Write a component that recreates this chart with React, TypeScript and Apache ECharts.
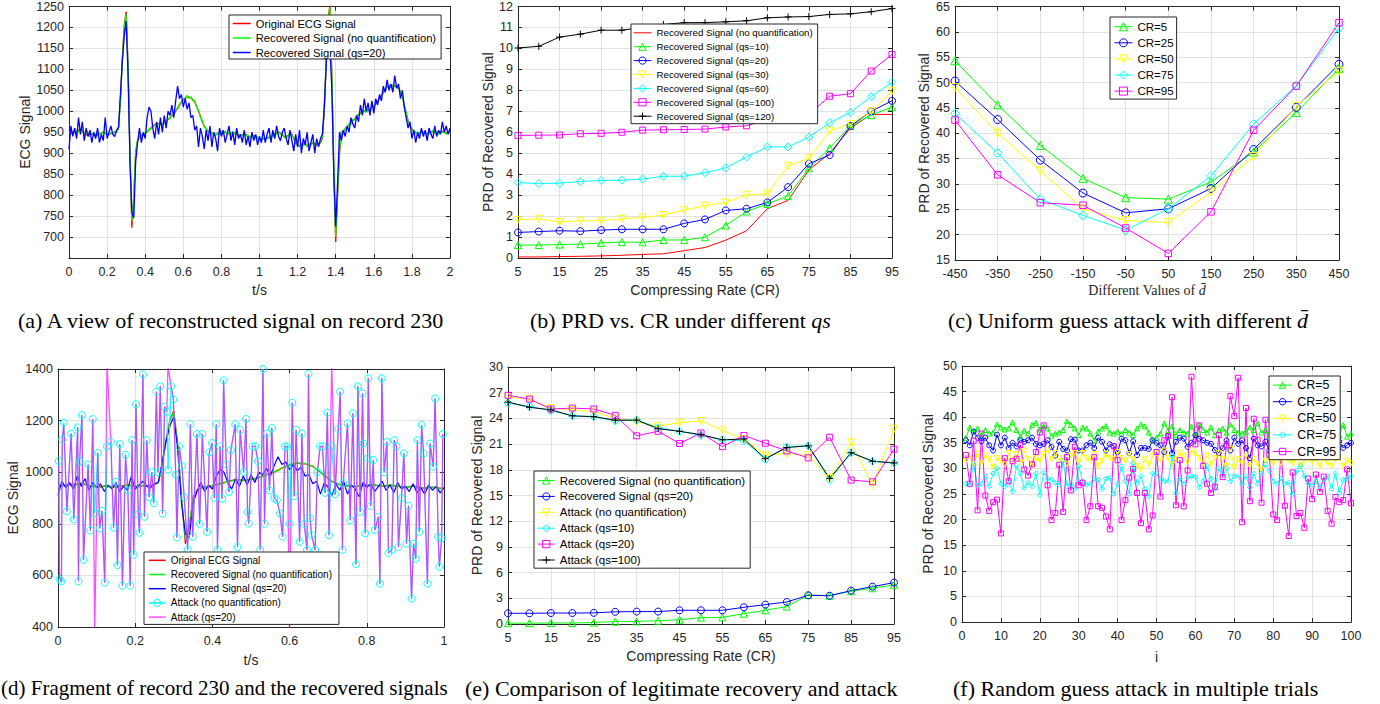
import React, { useEffect, useRef } from 'react';
import * as echarts from 'echarts';

// ---------- (a)/(d) ECG record 230, sampled every 0.01 s ----------
const ECG_STEP = 0.01;
const ecgOriginal = [
  945, 947, 950, 952, 950, 955, 957, 952, 948, 945,
  942, 944, 946, 945, 943, 944, 946, 948, 950, 948,
  946, 945, 947, 948, 950, 952, 958, 1030, 1125, 1205,
  1238, 1110, 900, 722, 790, 905, 930, 938, 942, 945,
  948, 952, 955, 960, 965, 968, 970, 970, 968, 970,
  972, 975, 980, 985, 990, 995, 1000, 1008, 1015, 1022,
  1028, 1032, 1035, 1034, 1032, 1028, 1022, 1012, 1000, 988,
  975, 965, 958, 952, 950, 948, 946, 945, 946, 948,
  950, 952, 950, 948, 946, 948, 950, 948, 945, 943,
  942, 944, 946, 944, 940, 938, 940, 942, 940, 938,
  936, 935, 934, 935, 936, 938, 940, 942, 945, 948,
  950, 948, 944, 940, 938, 942, 948, 945, 935, 925,
  920, 918, 920, 922, 920, 918, 920, 922, 925, 922,
  920, 922, 925, 935, 1000, 1120, 1220, 1255, 1080, 860,
  688, 800, 900, 945, 952, 958, 962, 968, 972, 978,
  982, 988, 992, 995, 998, 1000, 1000, 1002, 1005, 1008,
  1012, 1018, 1024, 1030, 1038, 1045, 1052, 1058, 1060, 1062,
  1062, 1060, 1058, 1055, 1048, 1035, 1015, 995, 978, 965,
  958, 952, 950, 948, 948, 950, 950, 948, 946, 948,
  950, 952, 950, 948, 948, 950, 952, 950, 948, 950, 952,
];
const ecgRecNoQ = [
  948, 950, 946, 955, 952, 950, 958, 955, 946, 948,
  945, 940, 948, 943, 946, 941, 948, 945, 952, 946,
  948, 943, 950, 946, 952, 950, 960, 1025, 1120, 1198,
  1232, 1105, 905, 738, 798, 900, 932, 936, 945, 942,
  950, 949, 958, 957, 968, 965, 973, 968, 971, 967,
  975, 972, 983, 982, 993, 992, 1003, 1005, 1018, 1020,
  1030, 1029, 1038, 1031, 1035, 1025, 1025, 1010, 1003, 985,
  978, 962, 960, 950, 953, 945, 949, 942, 949, 945,
  953, 949, 953, 945, 949, 945, 953, 945, 948, 940,
  945, 941, 949, 941, 943, 935, 943, 939, 943, 935,
  939, 932, 937, 932, 939, 935, 943, 939, 948, 945,
  953, 945, 947, 937, 941, 939, 951, 942, 938, 922,
  923, 915, 923, 919, 923, 915, 923, 919, 928, 919,
  923, 919, 928, 938, 1005, 1115, 1215, 1248, 1075, 865,
  700, 805, 905, 953, 949, 961, 959, 971, 969, 981,
  979, 991, 989, 998, 995, 1003, 997, 1005, 1002, 1011,
  1009, 1021, 1021, 1033, 1035, 1048, 1049, 1061, 1057, 1065,
  1059, 1063, 1055, 1058, 1045, 1038, 1012, 998, 975, 968,
  955, 955, 947, 951, 945, 953, 947, 951, 943, 951,
  947, 955, 947, 951, 945, 953, 949, 953, 945, 953, 949,
];
const ecgRecQs20 = [
  910, 965, 940, 960, 935, 985, 945, 975, 930, 960,
  940, 955, 925, 950, 935, 960, 925, 945, 930, 985,
  935, 950, 965, 945, 940, 955, 962, 1040, 1120, 1180,
  1215, 1090, 880, 760, 745, 880, 925, 960, 925, 950,
  935, 985, 1010, 1000, 960, 935, 975, 945, 985, 950,
  990, 960, 1000, 990, 1015, 985, 1025, 1060, 1030, 1040,
  1010, 1030, 1005, 1020, 985, 990, 955, 965, 915, 960,
  940, 910, 955, 930, 965, 915, 950, 935, 905, 960,
  940, 955, 925, 945, 965, 930, 950, 920, 960, 935,
  945, 925, 955, 920, 940, 915, 950, 930, 945, 920,
  940, 925, 955, 925, 945, 960, 925, 955, 935, 965,
  940, 930, 950, 960, 935, 920, 955, 930, 905, 945,
  915, 955, 900, 935, 920, 950, 905, 925, 945, 900,
  935, 915, 935, 945, 1010, 1110, 1200, 1150, 1050, 850,
  725, 830, 950, 930, 955, 940, 965, 950, 985, 970,
  960, 990, 975, 1015, 990, 1030, 1000, 1020, 990, 1025,
  995, 1030, 1015, 1040, 1025, 1060, 1045, 1075, 1050, 1065,
  1045, 1085, 1055, 1065, 1030, 1050, 1010, 985, 960, 975,
  935, 955, 925, 950, 935, 960, 940, 955, 930, 960,
  945, 935, 965, 940, 955, 945, 975, 950, 965, 945, 960,
];

// ---------- (d) attack samples ----------
const attackT = [
  0.002, 0.004, 0.009, 0.011, 0.015, 0.023, 0.034, 0.041, 0.051, 0.053,
  0.056, 0.062, 0.066, 0.078, 0.084, 0.090, 0.095, 0.103, 0.108, 0.114,
  0.121, 0.127, 0.137, 0.144, 0.150, 0.154, 0.160, 0.167, 0.175, 0.181,
  0.187, 0.192, 0.196, 0.202, 0.208, 0.211, 0.220, 0.224, 0.230, 0.236,
  0.243, 0.248, 0.255, 0.259, 0.265, 0.271, 0.276, 0.282, 0.285, 0.293,
  0.299, 0.305, 0.308, 0.314, 0.321, 0.327, 0.336, 0.343, 0.349, 0.360,
  0.367, 0.374, 0.386, 0.392, 0.399, 0.405, 0.410, 0.413, 0.420, 0.425,
  0.429, 0.436, 0.443, 0.448, 0.459, 0.465, 0.472, 0.481, 0.487, 0.491,
  0.494, 0.504, 0.511, 0.518, 0.524, 0.531, 0.535, 0.541, 0.548, 0.554,
  0.560, 0.567, 0.575, 0.582, 0.588, 0.594, 0.600, 0.607, 0.612, 0.617,
  0.626, 0.632, 0.638, 0.645, 0.649, 0.653, 0.657, 0.666, 0.672, 0.679,
  0.685, 0.692, 0.698, 0.702, 0.709, 0.718, 0.726, 0.731, 0.737, 0.739,
  0.750, 0.757, 0.764, 0.772, 0.777, 0.783, 0.789, 0.791, 0.796, 0.802,
  0.804, 0.810, 0.817, 0.821, 0.830, 0.834, 0.839, 0.845, 0.852, 0.856,
  0.865, 0.871, 0.877, 0.882, 0.890, 0.896, 0.903, 0.908, 0.916, 0.921,
  0.927, 0.931, 0.936, 0.942, 0.947, 0.957, 0.964, 0.972, 0.977, 0.985,
  0.988, 0.994, 0.997,
];
const attackNoQ = [
  1043, 585, 577, 1127, 1192, 848, 1150, 817, 1174, 577,
  1043, 1221, 660, 1030, 774, 1206, 840, 1075, 782, 850,
  572, 1100, 1118, 785, 963, 640, 1109, 560, 1067, 929,
  560, 1124, 680, 1263, 836, 765, 1379, 827, 1124, 903,
  1000, 880, 1312, 1000, 1333, 840, 1254, 1235, 1010, 1333,
  1282, 990, 747, 1100, 1024, 903, 700, 1186, 750, 1148,
  800, 1148, 769, 1077, 1113, 900, 1186, 700, 1100, 897,
  1356, 1030, 923, 1086, 1186, 710, 1164, 1000, 1206, 846,
  801, 1100, 1100, 1043, 700, 1400, 800, 1150, 929, 1171,
  900, 891, 840, 750, 1100, 1100, 800, 1269, 907, 1164,
  730, 1150, 800, 699, 1381, 821, 756, 699, 1000, 1100,
  1100, 920, 1231, 756, 1100, 914, 1167, 1312, 699, 958,
  1189, 814, 1228, 643, 1333, 846, 1306, 1111, 763, 1054,
  1364, 869, 1047, 776, 827, 568, 1364, 1000, 1118, 687,
  699, 1124, 1100, 710, 900, 1073, 723, 870, 510, 723,
  665, 1124, 769, 1183, 1073, 568, 1111, 1021, 1286, 750,
  634, 744, 1148,
];
const attackQs20 = [
  1040, 590, 577, 1127, 1185, 848, 1150, 820, 1174, 577,
  1043, 1221, 660, 1030, 774, 1206, 380, 1075, 782, 850,
  572, 1420, 1118, 785, 963, 640, 1109, 560, 1067, 929,
  560, 1124, 680, 1263, 836, 765, 1379, 827, 1124, 903,
  1000, 880, 1312, 1000, 1333, 840, 1254, 1235, 1410, 1333,
  1282, 990, 747, 1100, 1024, 903, 700, 1186, 750, 1148,
  800, 1148, 769, 1077, 1113, 900, 1186, 700, 1100, 897,
  1356, 1030, 923, 1086, 1186, 710, 1164, 1000, 1206, 846,
  801, 1100, 1100, 1043, 700, 1400, 800, 1150, 929, 1171,
  900, 891, 840, 750, 1100, 1100, 380, 1269, 907, 1164,
  730, 1150, 800, 699, 1381, 821, 756, 699, 1000, 1100,
  1100, 920, 1231, 756, 1420, 914, 1167, 1312, 699, 958,
  1189, 814, 1228, 643, 1333, 846, 1306, 1111, 763, 1054,
  1364, 869, 1047, 776, 827, 568, 1364, 1000, 1118, 687,
  699, 1124, 1100, 710, 900, 1073, 723, 870, 510, 723,
  665, 1124, 769, 1183, 1073, 568, 1111, 1021, 1286, 750,
  634, 744, 1148,
];

// ---------- (b) PRD vs CR ----------
const crValues = [5, 10, 15, 20, 25, 30, 35, 40, 45, 50, 55, 60, 65, 70, 75, 80, 85, 90, 95];
const prdNoQ = [0.05, 0.05, 0.07, 0.08, 0.1, 0.13, 0.17, 0.2, 0.35, 0.5, 0.85, 1.3, 2.35, 2.75, 4.2, 5.0, 6.2, 6.85, 6.85];
const prdQs10 = [0.62, 0.62, 0.64, 0.66, 0.72, 0.76, 0.75, 0.86, 0.86, 0.99, 1.55, 2.22, 2.58, 2.96, 4.28, 5.25, 6.3, 6.82, 7.2];
const prdQs20 = [1.22, 1.26, 1.3, 1.28, 1.33, 1.37, 1.37, 1.37, 1.65, 1.84, 2.27, 2.35, 2.65, 3.38, 4.5, 4.91, 6.3, 7.0, 7.5];
const prdQs30 = [1.82, 1.87, 1.72, 1.78, 1.78, 1.87, 1.93, 2.05, 2.28, 2.5, 2.65, 3.0, 3.07, 4.4, 4.75, 6.05, 6.4, 7.0, 7.96];
const prdQs60 = [3.6, 3.55, 3.57, 3.65, 3.7, 3.71, 3.77, 3.9, 3.9, 4.07, 4.3, 4.82, 5.3, 5.3, 5.77, 6.45, 6.95, 7.7, 8.38];
const prdQs100 = [5.85, 5.86, 5.87, 5.93, 5.95, 6.0, 6.1, 6.12, 6.13, 6.15, 6.25, 6.31, 6.6, 6.7, 6.85, 7.72, 7.84, 8.92, 9.71];
const prdQs120 = [10.02, 10.1, 10.54, 10.68, 10.87, 10.87, 11.0, 11.14, 11.23, 11.23, 11.27, 11.32, 11.46, 11.5, 11.52, 11.62, 11.65, 11.75, 11.9];

// ---------- (c) uniform guess attack ----------
const dBarValues = [-450, -350, -250, -150, -50, 50, 150, 250, 350, 450];
const uniCR5 = [54.3, 45.6, 37.6, 31.1, 27.3, 27.0, 30.4, 36.3, 44.1, 52.8];
const uniCR25 = [50.3, 42.7, 34.7, 28.2, 24.3, 25.1, 29.1, 36.8, 45.1, 53.6];
const uniCR50 = [49.0, 40.0, 32.6, 25.1, 22.8, 22.4, 28.4, 35.4, 45.3, 52.2];
const uniCR75 = [43.9, 36.1, 27.0, 23.8, 20.9, 25.1, 31.6, 41.8, 49.4, 60.7];
const uniCR95 = [42.6, 31.8, 26.3, 25.8, 21.3, 16.3, 24.5, 40.6, 49.3, 61.8];

// ---------- (e) legitimate recovery vs attack ----------
const cmpRecNoQ = [0.1, 0.1, 0.12, 0.12, 0.18, 0.28, 0.3, 0.38, 0.5, 0.74, 0.78, 1.2, 1.6, 2.03, 3.39, 3.3, 3.82, 4.17, 4.56];
const cmpRecQs20 = [1.25, 1.25, 1.28, 1.28, 1.3, 1.42, 1.45, 1.45, 1.6, 1.6, 1.6, 1.95, 2.26, 2.57, 3.35, 3.3, 3.9, 4.36, 4.83];
const cmpAttackNoQ = [26.45, 26.3, 25.2, 25.0, 24.8, 24.0, 23.6, 23.1, 23.5, 23.7, 22.6, 21.6, 19.7, 19.9, 19.7, 17.0, 21.2, 16.2, 22.75];
const cmpAttackQs10 = [25.8, 25.4, 24.9, 24.3, 24.2, 23.7, 23.8, 22.9, 22.5, 22.0, 21.5, 21.4, 19.2, 20.7, 20.8, 16.8, 20.0, 19.0, 18.8];
const cmpAttackQs20 = [26.7, 26.25, 25.1, 25.2, 25.1, 24.35, 21.97, 22.5, 21.07, 22.3, 20.7, 22.0, 21.1, 20.2, 19.4, 21.8, 16.8, 16.6, 20.4];
const cmpAttackQs100 = [25.9, 25.3, 25.0, 24.3, 24.2, 23.8, 23.8, 22.8, 22.5, 22.1, 21.5, 21.6, 19.3, 20.6, 20.8, 17.0, 20.0, 19.0, 18.8];

// ---------- (f) random guess attack, trials 1..100 ----------
const randCR5 = [
  36.0, 38.0, 37.2, 37.8, 36.5, 37.5, 36.8, 37.0, 38.6, 38.0,
  37.6, 37.8, 39.0, 37.5, 36.2, 37.4, 36.8, 38.5, 38.9, 37.6,
  38.2, 37.8, 36.4, 36.8, 37.0, 37.5, 39.2, 38.5, 37.8, 36.5,
  38.0, 37.8, 36.8, 35.5, 37.2, 37.8, 38.3, 37.0, 36.8, 37.2,
  36.8, 37.5, 37.0, 36.5, 37.8, 38.6, 38.2, 37.0, 35.5, 36.0,
  36.8, 38.8, 37.5, 38.2, 36.5, 37.5, 37.0, 36.8, 38.2, 36.5,
  38.5, 37.5, 37.0, 38.0, 36.5, 37.4, 37.8, 37.0, 38.6, 37.5,
  37.0, 36.8, 37.2, 38.0, 37.5, 38.8, 37.0, 37.5, 36.5, 38.0,
  36.5, 37.5, 38.0, 37.0, 36.8, 37.5, 38.2, 37.0, 37.5, 38.5,
  37.0, 38.0, 36.8, 37.5, 38.0, 37.2, 36.5, 38.5, 36.2, 36.8,
];
const randCR25 = [
  35.5, 34.5, 37.2, 36.0, 35.3, 36.0, 34.5, 33.5, 36.6, 34.5,
  36.0, 34.0, 35.0, 34.3, 35.5, 35.2, 35.5, 36.0, 34.8, 34.5,
  34.8, 35.5, 34.2, 32.5, 35.2, 33.8, 33.5, 35.7, 35.6, 33.5,
  33.5, 34.5, 35.0, 34.0, 36.0, 35.2, 33.5, 34.7, 34.4, 33.2,
  35.8, 35.5, 33.0, 35.3, 32.6, 34.0, 34.0, 33.8, 35.5, 35.0,
  34.5, 33.2, 36.3, 33.0, 35.2, 36.0, 35.8, 34.2, 35.0, 36.5,
  35.8, 35.5, 35.0, 34.8, 33.6, 33.0, 34.0, 35.5, 33.5, 36.0,
  34.8, 35.5, 34.0, 32.0, 35.8, 34.5, 34.3, 35.2, 33.5, 35.0,
  34.5, 35.3, 34.0, 35.5, 34.8, 33.5, 35.0, 34.2, 35.5, 34.0,
  35.2, 34.0, 35.5, 33.8, 35.0, 34.5, 35.3, 34.0, 34.5, 35.0,
];
const randCR50 = [
  31.5, 32.5, 30.8, 32.8, 31.0, 32.5, 31.8, 30.2, 32.0, 31.5,
  30.8, 33.0, 31.5, 32.8, 31.2, 33.5, 31.8, 30.5, 32.0, 31.5,
  32.8, 33.5, 31.8, 33.0, 31.5, 32.0, 30.8, 32.5, 33.0, 31.2,
  33.0, 32.0, 31.5, 32.8, 30.5, 31.5, 32.8, 32.0, 31.8, 33.2,
  32.0, 31.5, 32.8, 31.8, 30.5, 29.8, 31.8, 30.8, 32.5, 33.0,
  31.5, 33.5, 32.0, 30.8, 31.8, 33.0, 32.5, 31.2, 33.5, 32.8,
  32.0, 31.0, 32.5, 30.8, 32.0, 33.0, 31.8, 30.5, 33.8, 30.2,
  31.8, 31.0, 32.5, 30.5, 31.8, 30.8, 29.8, 31.5, 32.2, 31.0,
  32.5, 31.0, 32.8, 31.5, 31.0, 32.2, 30.5, 31.5, 32.0, 31.2,
  31.8, 30.5, 32.0, 31.0, 30.5, 31.8, 32.2, 30.5, 31.5, 31.0,
];
const randCR75 = [
  27.0, 26.8, 30.8, 26.7, 27.0, 28.5, 26.5, 29.0, 30.0, 27.0,
  26.5, 27.5, 25.5, 30.5, 29.0, 26.2, 27.2, 26.5, 29.0, 24.8,
  29.2, 28.0, 27.8, 27.2, 26.8, 31.5, 26.5, 27.0, 26.0, 30.5,
  27.5, 26.8, 27.0, 28.0, 27.8, 26.0, 28.0, 28.2, 25.0, 27.0,
  30.5, 27.5, 25.0, 31.0, 27.0, 28.5, 26.0, 24.5, 29.0, 29.0,
  28.0, 27.5, 27.5, 32.5, 25.2, 28.0, 27.0, 28.2, 28.5, 28.3,
  26.3, 27.5, 30.5, 28.0, 26.0, 30.0, 28.5, 30.0, 27.5, 28.5,
  28.5, 27.0, 28.5, 26.3, 29.0, 27.0, 29.0, 30.8, 29.5, 27.5,
  27.0, 28.0, 27.0, 27.2, 25.0, 29.5, 30.5, 28.5, 27.0, 26.8,
  27.5, 26.5, 27.8, 28.5, 26.0, 29.0, 25.2, 27.8, 28.0, 28.5,
];
const randCR95 = [
  32.6, 27.0, 35.4, 21.8, 36.8, 24.7, 21.7, 23.4, 23.9, 17.3,
  32.0, 27.5, 31.4, 31.9, 34.6, 29.8, 28.6, 30.8, 33.2, 37.0,
  38.4, 26.7, 19.9, 21.3, 30.7, 21.5, 32.2, 25.7, 34.2, 26.7,
  27.2, 19.9, 22.6, 32.2, 22.6, 22.3, 20.6, 18.1, 34.3, 31.6,
  19.9, 23.8, 28.2, 29.9, 25.2, 19.3, 25.2, 18.1, 20.8, 33.2,
  24.5, 35.5, 36.3, 43.9, 22.8, 31.6, 22.6, 29.6, 47.9, 34.7,
  38.4, 30.5, 27.0, 25.2, 26.4, 36.5, 28.3, 34.5, 44.1, 40.2,
  47.7, 19.5, 41.8, 23.6, 39.7, 35.6, 23.3, 39.5, 32.7, 21.0,
  19.9, 33.5, 22.7, 16.8, 29.2, 20.7, 21.3, 18.4, 28.0, 24.0,
  28.8, 25.4, 28.4, 21.7, 19.2, 24.4, 23.4, 23.8, 29.8, 23.2,
];

// ---------- styling ----------
const SANS = 'Liberation Sans, Arial, Helvetica, sans-serif';
const SERIF = 'Liberation Serif, Times New Roman, serif';
const AX = '#262626';
const GRIDC = '#e2e2e2';
const RED = '#ff0000', GREEN = '#00ff00', BLUE = '#0000ff', YELLOW = '#ffff00', CYAN = '#00ffff', MAGENTA = '#ff00ff', BLACK = '#000000';
const PLUS = 'path://M5,0L5,10M0,5L10,5';
const plainNumber = (v: number) => String(v);

const grids = [
  { left: 69, top: 6, width: 381, height: 252 },
  { left: 518, top: 6, width: 374, height: 252 },
  { left: 955, top: 6, width: 384, height: 254 },
  { left: 58, top: 369, width: 386, height: 258 },
  { left: 508, top: 367, width: 386, height: 257 },
  { left: 962, top: 366, width: 389, height: 256 },
];

function axisPair(kind: 'x' | 'y', gi: number, min: number, max: number, interval: number, name: string, nameGap: number, extra: any = {}) {
  const lineStyle = { color: AX, width: 1 };
  const main: any = {
    type: 'value', gridIndex: gi, min, max, interval,
    position: kind === 'x' ? 'bottom' : 'left',
    name, nameLocation: 'middle', nameGap,
    nameTextStyle: { fontFamily: SANS, fontSize: 14, color: AX, ...(extra.nameTextStyle || {}) },
    axisLine: { show: true, onZero: false, lineStyle },
    axisTick: { show: true, inside: true, length: 4, lineStyle },
    axisLabel: { fontFamily: SANS, fontSize: 12.5, color: AX, margin: kind === 'x' ? 7 : 5, ...(extra.axisLabel || {}) },
    splitLine: { show: true, lineStyle: { color: GRIDC, width: 1 } },
  };
  const twin: any = {
    type: 'value', gridIndex: gi, min, max, interval,
    position: kind === 'x' ? 'top' : 'right',
    axisLine: { show: true, onZero: false, lineStyle },
    axisTick: { show: true, inside: true, length: 4, lineStyle },
    axisLabel: { show: false },
    splitLine: { show: false },
  };
  return [main, twin];
}

function mk(name: string, gi: number, xs: number[], ys: number[], color: string, opt: any = {}) {
  const data = xs.map((x, i) => [x, ys[i]]);
  const base: any = {
    type: 'line', name, xAxisIndex: gi * 2, yAxisIndex: gi * 2, data,
    silent: true, emphasis: { disabled: true },
    lineStyle: { color, width: opt.width ?? 1, opacity: opt.opacity ?? 1 },
  };
  if (opt.symbol) {
    return {
      ...base, symbol: opt.symbol, symbolSize: opt.size ?? 7, symbolRotate: opt.rotate ?? 0, showSymbol: true,
      itemStyle: { color: 'rgba(0,0,0,0)', borderColor: color, borderWidth: 1 },
    };
  }
  return { ...base, symbol: 'circle', showSymbol: false, itemStyle: { color: 'rgba(0,0,0,0)', borderWidth: 0 } };
}

function legend(left: number, top: number, items: { name: string; lineOnly?: boolean }[], fontSize: number, itemWidth: number, itemHeight: number, itemGap: number, padding: number[], lineWidth = 1) {
  return {
    show: true, orient: 'vertical', left, top, selectedMode: false,
    data: items.map((it) => (it.lineOnly ? { name: it.name, itemStyle: { opacity: 0 } } : { name: it.name })),
    formatter: (n: string) => n.split('|')[1],
    backgroundColor: '#ffffff', borderColor: AX, borderWidth: 1, borderRadius: 0,
    padding, itemGap, itemWidth, itemHeight,
    textStyle: { fontFamily: SANS, fontSize, color: '#000' },
    itemStyle: { borderWidth: 1 },
    lineStyle: { width: lineWidth },
    z: 20,
  };
}

function buildOption() {
  const ecgT = ecgOriginal.map((_, i) => +(i * ECG_STEP).toFixed(2));
  const dT = ecgT.slice(0, 101);
  const trials = randCR5.map((_, i) => i + 1);

  const xAxes: any[] = [];
  const yAxes: any[] = [];
  const italicRich = { i: { fontFamily: SERIF, fontStyle: 'italic', fontSize: 14, color: AX } };
  xAxes.push(...axisPair('x', 0, 0, 2, 0.2, 't/s', 25));
  yAxes.push(...axisPair('y', 0, 650, 1250, 50, 'ECG Signal', 37, { axisLabel: { showMinLabel: false, formatter: plainNumber } }));
  xAxes.push(...axisPair('x', 1, 5, 95, 10, 'Compressing Rate (CR)', 25));
  yAxes.push(...axisPair('y', 1, 0, 12, 1, 'PRD of Recovered Signal', 23));
  xAxes.push(...axisPair('x', 2, -450, 450, 100, 'Different Values of {i|d\u0304}', 23, { nameTextStyle: { fontFamily: SERIF, fontSize: 14, rich: italicRich } }));
  yAxes.push(...axisPair('y', 2, 15, 65, 5, 'PRD of Recovered Signal', 24));
  xAxes.push(...axisPair('x', 3, 0, 1, 0.2, 't/s', 26));
  yAxes.push(...axisPair('y', 3, 400, 1400, 200, 'ECG Signal', 38, { axisLabel: { formatter: plainNumber } }));
  xAxes.push(...axisPair('x', 4, 5, 95, 10, 'Compressing Rate (CR)', 25));
  yAxes.push(...axisPair('y', 4, 0, 30, 3, 'PRD of Recovered Signal', 24));
  xAxes.push(...axisPair('x', 5, 0, 100, 10, 'i', 28));
  yAxes.push(...axisPair('y', 5, 0, 50, 5, 'PRD of Recovered Signal', 27));

  const series: any[] = [
    // (a)
    mk('a|Original ECG Signal', 0, ecgT, ecgOriginal, RED, { width: 1.3 }),
    mk('a|Recovered Signal (no quantification)', 0, ecgT, ecgRecNoQ, GREEN, { width: 1.3 }),
    mk('a|Recovered Signal (qs=20)', 0, ecgT, ecgRecQs20, BLUE, { width: 1.3 }),
    // (b)
    mk('b|Recovered Signal (no quantification)', 1, crValues, prdNoQ, RED),
    mk('b|Recovered Signal (qs=10)', 1, crValues, prdQs10, GREEN, { symbol: 'triangle', size: 7 }),
    mk('b|Recovered Signal (qs=20)', 1, crValues, prdQs20, BLUE, { symbol: 'circle', size: 7 }),
    mk('b|Recovered Signal (qs=30)', 1, crValues, prdQs30, YELLOW, { symbol: 'triangle', rotate: 180, size: 7 }),
    mk('b|Recovered Signal (qs=60)', 1, crValues, prdQs60, CYAN, { symbol: 'diamond', size: 8 }),
    mk('b|Recovered Signal (qs=100)', 1, crValues, prdQs100, MAGENTA, { symbol: 'rect', size: 6 }),
    mk('b|Recovered Signal (qs=120)', 1, crValues, prdQs120, BLACK, { symbol: PLUS, size: 7 }),
    // (c)
    mk('c|CR=5', 2, dBarValues, uniCR5, GREEN, { symbol: 'triangle', size: 8 }),
    mk('c|CR=25', 2, dBarValues, uniCR25, BLUE, { symbol: 'circle', size: 8 }),
    mk('c|CR=50', 2, dBarValues, uniCR50, YELLOW, { symbol: 'triangle', rotate: 180, size: 8 }),
    mk('c|CR=75', 2, dBarValues, uniCR75, CYAN, { symbol: 'diamond', size: 9 }),
    mk('c|CR=95', 2, dBarValues, uniCR95, MAGENTA, { symbol: 'rect', size: 6.5 }),
    // (d)
    mk('d|Original ECG Signal', 3, dT, ecgOriginal.slice(0, 101), RED, { width: 1.2 }),
    mk('d|Recovered Signal (no quantification)', 3, dT, ecgRecNoQ.slice(0, 101), GREEN, { width: 1.2 }),
    mk('d|Recovered Signal (qs=20)', 3, dT, ecgRecQs20.slice(0, 101), BLUE, { width: 1.2 }),
    mk('d|Attack (no quantification)', 3, attackT, attackNoQ, CYAN, { symbol: 'circle', size: 7 }),
    mk('d|Attack (qs=20)', 3, attackT, attackQs20, MAGENTA, { width: 1.3, opacity: 0.7 }),
    // (e)
    mk('e|Recovered Signal (no quantification)', 4, crValues, cmpRecNoQ, GREEN, { symbol: 'triangle', size: 7 }),
    mk('e|Recovered Signal (qs=20)', 4, crValues, cmpRecQs20, BLUE, { symbol: 'circle', size: 7 }),
    mk('e|Attack (no quantification)', 4, crValues, cmpAttackNoQ, YELLOW, { symbol: 'triangle', rotate: 180, size: 7 }),
    mk('e|Attack (qs=10)', 4, crValues, cmpAttackQs10, CYAN, { symbol: 'diamond', size: 8 }),
    mk('e|Attack (qs=20)', 4, crValues, cmpAttackQs20, MAGENTA, { symbol: 'rect', size: 6 }),
    mk('e|Attack (qs=100)', 4, crValues, cmpAttackQs100, BLACK, { symbol: PLUS, size: 7 }),
    // (f)
    mk('f|CR=5', 5, trials, randCR5, GREEN, { symbol: 'triangle', size: 5 }),
    mk('f|CR=25', 5, trials, randCR25, BLUE, { symbol: 'circle', size: 5 }),
    mk('f|CR=50', 5, trials, randCR50, YELLOW, { symbol: 'triangle', rotate: 180, size: 5 }),
    mk('f|CR=75', 5, trials, randCR75, CYAN, { symbol: 'diamond', size: 5 }),
    mk('f|CR=95', 5, trials, randCR95, MAGENTA, { symbol: 'rect', size: 5 }),
  ];

  const legends = [
    legend(229, 15, [
      { name: 'a|Original ECG Signal', lineOnly: true },
      { name: 'a|Recovered Signal (no quantification)', lineOnly: true },
      { name: 'a|Recovered Signal (qs=20)', lineOnly: true },
    ], 11.2, 18, 12, 3.5, [3, 5, 1, 3], 1.5),
    legend(631, 24, [
      { name: 'b|Recovered Signal (no quantification)', lineOnly: true },
      { name: 'b|Recovered Signal (qs=10)' },
      { name: 'b|Recovered Signal (qs=20)' },
      { name: 'b|Recovered Signal (qs=30)' },
      { name: 'b|Recovered Signal (qs=60)' },
      { name: 'b|Recovered Signal (qs=100)' },
      { name: 'b|Recovered Signal (qs=120)' },
    ], 9.7, 18, 9, 3.9, [3.8, 5, 2.5, 2]),
    legend(1110, 17, [
      { name: 'c|CR=5' }, { name: 'c|CR=25' }, { name: 'c|CR=50' }, { name: 'c|CR=75' }, { name: 'c|CR=95' },
    ], 11.5, 18, 10, 4.1, [3.7, 3, 2, 4]),
    legend(144, 552, [
      { name: 'd|Original ECG Signal', lineOnly: true },
      { name: 'd|Recovered Signal (no quantification)', lineOnly: true },
      { name: 'd|Recovered Signal (qs=20)', lineOnly: true },
      { name: 'd|Attack (no quantification)' },
      { name: 'd|Attack (qs=20)', lineOnly: true },
    ], 10, 17, 9, 4.2, [3.3, 7, 2.3, 4], 1.5),
    legend(534, 471, [
      { name: 'e|Recovered Signal (no quantification)' },
      { name: 'e|Recovered Signal (qs=20)' },
      { name: 'e|Attack (no quantification)' },
      { name: 'e|Attack (qs=10)' },
      { name: 'e|Attack (qs=20)' },
      { name: 'e|Attack (qs=100)' },
    ], 11.5, 17, 9, 3.9, [3.5, 5, 2.2, 3.3]),
    legend(1269, 376, [
      { name: 'f|CR=5' }, { name: 'f|CR=25' }, { name: 'f|CR=50' }, { name: 'f|CR=75' }, { name: 'f|CR=95' },
    ], 12.4, 19.5, 8, 4.6, [3.1, 4, 2.2, 3.3]),
  ];

  const capStyle = { fontFamily: SERIF, fontSize: 22, fill: '#000', verticalAlign: 'middle' };
  const capRich = { i: { fontFamily: SERIF, fontSize: 22, fontStyle: 'italic', fill: '#000' } };
  const graphic = [
    { type: 'text', x: 18, y: 320, style: { ...capStyle, align: 'left', text: '(a) A view of reconstructed signal on record 230' } },
    { type: 'text', x: 530, y: 320, style: { ...capStyle, align: 'left', text: '(b) PRD vs. CR under different {i|qs}', rich: capRich } },
    { type: 'text', x: 948, y: 320, style: { ...capStyle, align: 'left', text: '(c) Uniform guess attack with different {i|d\u0304}', rich: capRich } },
    { type: 'text', x: 1, y: 688, style: { ...capStyle, fontSize: 21, align: 'left', text: '(d) Fragment of record 230 and the recovered signals' } },
    { type: 'text', x: 465, y: 688, style: { ...capStyle, align: 'left', text: '(e) Comparison of legitimate recovery and attack' } },
    { type: 'text', x: 953, y: 688, style: { ...capStyle, align: 'left', text: '(f) Random guess attack in multiple trials' } },
  ];

  return {
    animation: false,
    backgroundColor: '#ffffff',
    textStyle: { fontFamily: SANS },
    grid: grids.map((g) => ({ ...g, show: false })),
    xAxis: xAxes,
    yAxis: yAxes,
    legend: legends,
    series,
    graphic,
  };
}

export default function App() {
  const ref = useRef<HTMLDivElement>(null);
  useEffect(() => {
    if (!ref.current) return;
    const chart = echarts.init(ref.current, undefined, { renderer: 'svg' });
    chart.setOption(buildOption() as any);
    return () => chart.dispose();
  }, []);
  return <div ref={ref} style={{ position: 'fixed', left: 0, top: 0, width: 1380, height: 704, background: '#fff' }} />;
}
